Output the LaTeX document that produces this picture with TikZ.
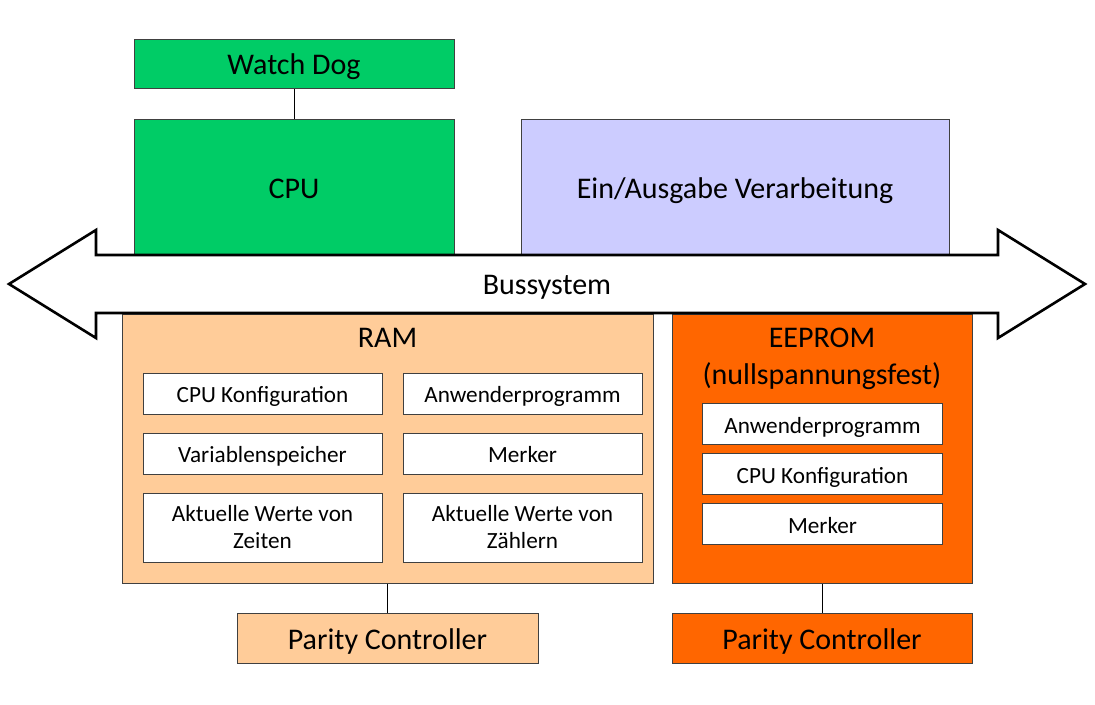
\documentclass[tikz,border=0pt]{standalone}
\usepackage{fontspec}
\setmainfont{Carlito}
\newdimen\pxu \pxu=0.75pt
\definecolor{cgreen}{HTML}{00CC66}
\definecolor{clav}{HTML}{CCCCFF}
\definecolor{cpeach}{HTML}{FFCC99}
\definecolor{corange}{HTML}{FF6600}
\definecolor{cline}{HTML}{404040}
\tikzset{
  box/.style={draw=cline, line width=1\pxu, inner sep=0pt, align=center},
  bigtxt/.style={font=\fontsize{22.5}{27.75}\selectfont},
  smalltxt/.style={font=\fontsize{17.4}{20.25}\selectfont},
  bigone/.style={bigtxt, text height=16.7pt, text depth=0pt},
  smallone/.style={smalltxt, text height=13.5pt, text depth=0pt},
  inner/.style={box, fill=white, smalltxt},
  conn/.style={draw=black, line width=1\pxu},
}
\begin{document}
\begin{tikzpicture}[x=0.75pt,y=-0.75pt]
\useasboundingbox (0,0) rectangle (1095,704);
% top boxes
\node[box, bigone, fill=cgreen, minimum width=320\pxu, minimum height=49\pxu] (wd) at (294,63.5) {Watch Dog};
\node[box, bigone, fill=cgreen, minimum width=320\pxu, minimum height=136\pxu] (cpu) at (294,187) {CPU};
\node[box, bigone, fill=clav, minimum width=428\pxu, minimum height=136\pxu] (io) at (735,187) {Ein/Ausgabe Verarbeitung};
% memory boxes
\node[box, fill=cpeach, minimum width=531\pxu, minimum height=269\pxu] (ram) at (387.5,448.5) {};
\node[bigone] (ramlbl) at (387.5,336.5) {RAM};
\node[box, fill=corange, minimum width=300\pxu, minimum height=269\pxu] (eep) at (822,448.5) {};
\node[bigtxt, align=center] (eeplbl) at (822,358.5) {EEPROM\\(nullspannungsfest)};
% RAM inner
\node[inner, smallone, minimum width=239\pxu, minimum height=41\pxu] (r1) at (262.5,393.5) {CPU Konfiguration};
\node[inner, smallone, minimum width=239\pxu, minimum height=41\pxu] (r2) at (522.5,393.5) {Anwenderprogramm};
\node[inner, smallone, minimum width=239\pxu, minimum height=41\pxu] (r3) at (262.5,453.5) {Variablenspeicher};
\node[inner, smallone, minimum width=239\pxu, minimum height=41\pxu] (r4) at (522.5,453.5) {Merker};
\node[inner, minimum width=239\pxu, minimum height=69\pxu] (r5) at (262.5,527.5) {Aktuelle Werte von\\Zeiten};
\node[inner, minimum width=239\pxu, minimum height=69\pxu] (r6) at (522.5,527.5) {Aktuelle Werte von\\Zählern};
% EEPROM inner
\node[inner, smallone, minimum width=240\pxu, minimum height=41\pxu] (e1) at (822.5,424) {Anwenderprogramm};
\node[inner, smallone, minimum width=240\pxu, minimum height=41\pxu] (e2) at (822.5,474) {CPU Konfiguration};
\node[inner, smallone, minimum width=240\pxu, minimum height=41\pxu] (e3) at (822.5,524) {Merker};
% parity
\node[box, bigone, fill=cpeach, minimum width=301\pxu, minimum height=50\pxu] (pram) at (387.5,638) {Parity Controller};
\node[box, bigone, fill=corange, minimum width=300\pxu, minimum height=50\pxu] (peep) at (822,638) {Parity Controller};
% connectors
\draw[conn] (wd.south) -- (cpu.north);
\draw[conn] (ram.south) -- (pram.north);
\draw[conn] (eep.south) -- (peep.north);
% bus arrow
\draw[black, fill=white, line width=2.6\pxu, line join=miter]
  (9,284) -- (96,230) -- (96,255) -- (998,255) -- (998,230) -- (1085,284)
  -- (998,338) -- (998,313) -- (96,313) -- (96,338) -- cycle;
\node[bigone] (bus) at (547,283.5) {Bussystem};
\end{tikzpicture}
\end{document}
